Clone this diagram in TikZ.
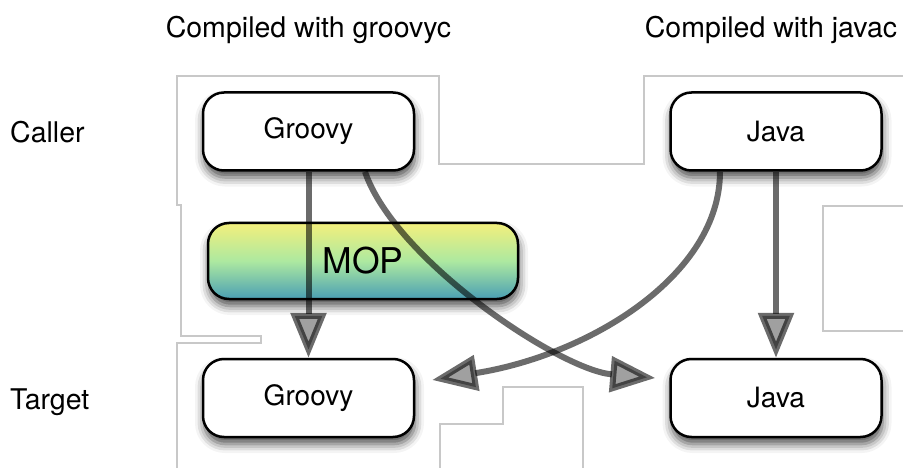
\documentclass[tikz,border=0pt]{standalone}
\usepackage{fontspec}
\setmainfont{TeX Gyre Heros}
\usetikzlibrary{arrows.meta,shadows.blur,calc}
\definecolor{bgline}{HTML}{C8C8C8}
\definecolor{mopTop}{HTML}{F3EF7C}
\definecolor{mopMid}{HTML}{ADE9A0}
\definecolor{mopBot}{HTML}{4A9FB4}
\definecolor{tipfill}{HTML}{A0A0A0}
\begin{document}
\begin{tikzpicture}[x=1pt,y=-1pt,
  box/.style={draw=black, line width=2.5pt, rounded corners=21pt, fill=white,
    minimum width=211pt, minimum height=78pt, inner sep=0pt,
    font=\fontsize{28}{32}\selectfont,
    blur shadow={shadow xshift=1pt, shadow yshift=-7pt, shadow blur radius=9pt, shadow opacity=70}},
  mopbox/.style={box, minimum width=310pt, minimum height=76pt,
    top color=mopTop, bottom color=mopBot, middle color=mopMid,
    font=\fontsize{35.5}{40}\selectfont},
  lbl/.style={font=\fontsize{28.5}{32}\selectfont, inner sep=0pt},
  bg/.style={draw=bgline, line width=1.5pt},
  conn/.style={draw=black, draw opacity=0.58, line width=6pt,
    -{Triangle[length=45pt,width=35pt,line width=6pt,fill=tipfill]}}
]
\useasboundingbox (0,0) rectangle (903,468);
% background region outlines
\draw[bg] (903,76) -- (644,76) -- (644,164) -- (439,164) -- (439,76) -- (177,76)
  -- (177,205) -- (181,205) -- (181,336) -- (261,336) -- (261,343) -- (177,343) -- (177,468);
\draw[bg] (903,206) -- (823,206) -- (823,331) -- (903,331);
\draw[bg] (440,468) -- (440,424) -- (503,424) -- (503,387) -- (583,387) -- (583,468);
% labels
\node[lbl, anchor=base] (h1) at (308.5,38) {Compiled with groovyc};
\node[lbl, anchor=base] (h2) at (771,38) {Compiled with javac};
\node[lbl, anchor=base west] (caller) at (10,143) {Caller};
\node[lbl, anchor=base west] (target) at (10,409) {Target};
% boxes
\node[box] (gc) at (308.5,131.5) {Groovy};
\node[box] (jc) at (776,131.5) {Java};
\node[box] (gt) at (308.5,398) {Groovy};
\node[box] (jt) at (776,398) {Java};
\node[mopbox] (mop) at (363,261) {MOP};
% connectors
\coordinate (gcR) at ($(gc.south)+(56.5,0)$);
\coordinate (jcL) at ($(jc.south)+(-56,0)$);
\coordinate (jtIn) at ($(jt.west)+(-14,-20)$);
\coordinate (gtIn) at ($(gt.east)+(17,-18)$);
\draw[conn] (gc) -- (gt);
\draw[conn] (jc) -- (jt);
\draw[conn] (gcR) .. controls (395,260) and (560,370) .. (jtIn);
\draw[conn] (jcL) .. controls (720,275) and (590,355) .. (gtIn);
\end{tikzpicture}
\end{document}
